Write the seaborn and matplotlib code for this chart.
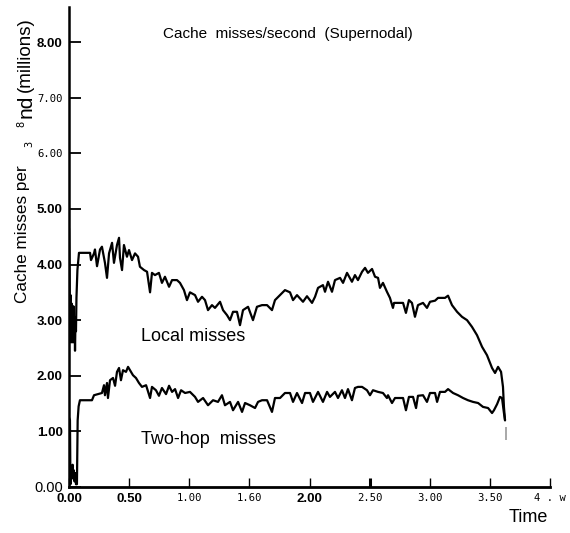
import matplotlib
matplotlib.use("Agg")
import matplotlib.pyplot as plt
import seaborn as sns
import pandas as pd

# ---- data ----------------------------------------------------------------
local_time = [
    0.000, 0.004, 0.008, 0.013, 0.017, 0.021, 0.025, 0.029, 0.033, 0.037,
    0.042, 0.046, 0.050, 0.054, 0.058, 0.062, 0.070, 0.078, 0.083, 0.175,
    0.183, 0.208, 0.216, 0.233, 0.258, 0.274, 0.299, 0.316, 0.333, 0.358,
    0.374, 0.399, 0.416, 0.424, 0.441, 0.457, 0.482, 0.499, 0.524, 0.549,
    0.574, 0.590, 0.624, 0.649, 0.674, 0.690, 0.715, 0.748, 0.773, 0.798,
    0.832, 0.857, 0.898, 0.923, 0.956, 0.981, 1.006, 1.048, 1.073, 1.106,
    1.131, 1.156, 1.189, 1.214, 1.256, 1.281, 1.314, 1.339, 1.364, 1.397,
    1.422, 1.447, 1.489, 1.530, 1.563, 1.605, 1.647, 1.688, 1.713, 1.755,
    1.796, 1.838, 1.863, 1.896, 1.946, 1.979, 2.021, 2.046, 2.071, 2.112,
    2.129, 2.154, 2.187, 2.212, 2.254, 2.279, 2.312, 2.353, 2.378, 2.403,
    2.437, 2.462, 2.486, 2.520, 2.545, 2.570, 2.586, 2.611, 2.644, 2.669,
    2.694, 2.703, 2.778, 2.802, 2.827, 2.852, 2.877, 2.902, 2.944, 2.977,
    3.002, 3.044, 3.069, 3.127, 3.152, 3.185, 3.227, 3.268, 3.310, 3.351,
    3.393, 3.435, 3.476, 3.518, 3.543, 3.568, 3.593, 3.609, 3.617, 3.626,
]
local_misses = [
    4.65, 3.90, 3.10, 3.45, 2.60, 3.30, 2.85, 3.15, 2.60, 3.25,
    2.70, 3.05, 2.45, 3.00, 2.80, 3.40, 3.90, 4.10, 4.21, 4.21,
    4.08, 4.20, 4.27, 3.97, 4.27, 4.32, 4.03, 3.76, 4.20, 4.39,
    4.03, 4.35, 4.48, 4.12, 3.90, 4.35, 4.14, 4.26, 4.08, 4.20,
    4.14, 3.96, 3.90, 3.87, 3.50, 3.85, 3.81, 3.85, 3.67, 3.78,
    3.60, 3.72, 3.72, 3.67, 3.54, 3.36, 3.50, 3.45, 3.33, 3.42,
    3.36, 3.18, 3.27, 3.22, 3.33, 3.18, 3.09, 3.00, 3.15, 3.15,
    2.91, 3.18, 3.24, 3.00, 3.24, 3.27, 3.27, 3.18, 3.36, 3.45,
    3.54, 3.50, 3.36, 3.45, 3.33, 3.43, 3.31, 3.42, 3.58, 3.63,
    3.51, 3.69, 3.51, 3.72, 3.76, 3.67, 3.85, 3.69, 3.81, 3.72,
    3.87, 3.94, 3.85, 3.92, 3.78, 3.76, 3.58, 3.67, 3.51, 3.40,
    3.22, 3.31, 3.31, 3.13, 3.36, 3.31, 3.06, 3.27, 3.31, 3.22,
    3.33, 3.35, 3.40, 3.40, 3.44, 3.27, 3.15, 3.06, 3.00, 2.88,
    2.73, 2.52, 2.37, 2.14, 2.05, 2.16, 2.07, 1.80, 1.44, 1.20,
]

twohop_time = [
    0.000, 0.008, 0.012, 0.020, 0.025, 0.030, 0.035, 0.040, 0.046, 0.052,
    0.058, 0.066, 0.072, 0.080, 0.091, 0.191, 0.208, 0.274, 0.291, 0.299,
    0.316, 0.324, 0.341, 0.366, 0.383, 0.399, 0.416, 0.432, 0.449, 0.474,
    0.491, 0.507, 0.532, 0.557, 0.582, 0.607, 0.641, 0.674, 0.690, 0.723,
    0.748, 0.773, 0.807, 0.832, 0.857, 0.882, 0.907, 0.932, 0.965, 1.006,
    1.048, 1.073, 1.115, 1.156, 1.198, 1.239, 1.272, 1.297, 1.339, 1.364,
    1.406, 1.439, 1.464, 1.505, 1.547, 1.572, 1.605, 1.647, 1.688, 1.713,
    1.755, 1.796, 1.838, 1.863, 1.896, 1.938, 1.963, 2.004, 2.029, 2.071,
    2.112, 2.146, 2.170, 2.212, 2.237, 2.270, 2.295, 2.320, 2.353, 2.378,
    2.403, 2.437, 2.478, 2.503, 2.528, 2.570, 2.611, 2.644, 2.653, 2.686,
    2.711, 2.778, 2.802, 2.827, 2.861, 2.886, 2.902, 2.944, 2.977, 3.002,
    3.044, 3.061, 3.085, 3.127, 3.152, 3.194, 3.235, 3.277, 3.318, 3.360,
    3.402, 3.443, 3.485, 3.518, 3.534, 3.560, 3.584, 3.601, 3.617, 3.626,
]
twohop_misses = [
    1.25, 1.20, 0.05, 0.35, 0.20, 0.40, 0.15, 0.30, 0.10, 0.25,
    0.05, 0.05, 1.20, 1.45, 1.56, 1.56, 1.65, 1.69, 1.83, 1.65,
    1.87, 1.60, 1.92, 1.96, 1.82, 2.07, 2.14, 1.92, 2.10, 2.07,
    2.16, 2.10, 2.01, 1.96, 1.87, 1.80, 1.83, 1.60, 1.80, 1.74,
    1.64, 1.78, 1.67, 1.82, 1.71, 1.76, 1.60, 1.74, 1.69, 1.71,
    1.62, 1.53, 1.60, 1.47, 1.56, 1.53, 1.65, 1.47, 1.53, 1.38,
    1.53, 1.35, 1.51, 1.47, 1.42, 1.53, 1.56, 1.56, 1.35, 1.60,
    1.60, 1.69, 1.69, 1.53, 1.69, 1.51, 1.69, 1.69, 1.53, 1.71,
    1.53, 1.71, 1.62, 1.71, 1.60, 1.74, 1.60, 1.76, 1.56, 1.78,
    1.80, 1.80, 1.74, 1.65, 1.74, 1.71, 1.69, 1.60, 1.65, 1.51,
    1.60, 1.60, 1.38, 1.62, 1.62, 1.42, 1.64, 1.65, 1.53, 1.69,
    1.69, 1.53, 1.71, 1.71, 1.76, 1.69, 1.65, 1.60, 1.56, 1.53,
    1.51, 1.44, 1.42, 1.33, 1.38, 1.49, 1.62, 1.60, 1.33, 1.20,
]

x_ticks = [0.0, 0.5, 1.0, 1.5, 2.0, 2.5, 3.0, 3.5, 4.0]
x_tick_labels = ["0.00", "0.50", "1.00", "1.60", "2.00", "2.50", "3.00", "3.50", "4 . w"]
y_ticks = [0, 1, 2, 3, 4, 5, 6, 7, 8]
y_tick_labels = ["0.00", "1.00", "2.00", "3.00", "4.00", "5.00", "6.00", "7.00", "8.00"]

title = "Cache  misses/second  (Supernodal)"
local_label = "Local misses"
twohop_label = "Two-hop  misses"

# ---- figure --------------------------------------------------------------
sns.set_theme(style="white")
plt.rcParams["font.family"] = ["Liberation Sans", "DejaVu Sans"]

W, H = 570, 533
fig = plt.figure(figsize=(W / 100, H / 100), dpi=100)
ax = fig.add_axes([69 / W, 1 - 487 / H, (550 - 69) / W, (487 - 7) / H])

local_df = pd.DataFrame({"time": local_time, "misses": local_misses})
twohop_df = pd.DataFrame({"time": twohop_time, "misses": twohop_misses})

for df in (local_df, twohop_df):
    sns.lineplot(data=df, x="time", y="misses", ax=ax, color="black",
                 linewidth=1.6, estimator=None, sort=False)

# small end-of-run marker below the curves
ax.vlines(local_time[-1] + 0.012, 0.85, 1.08, color="#999999", linewidth=1.2)

ax.set_xlim(0, 4.0)
ax.set_ylim(0, 8.63)
ax.set_xlabel("")
ax.set_ylabel("")

for side in ("top", "right"):
    ax.spines[side].set_visible(False)
ax.spines["left"].set_linewidth(1.8)
ax.spines["bottom"].set_linewidth(2.0)
for side in ("left", "bottom"):
    ax.spines[side].set_color("black")

ax.set_xticks(x_ticks, labels=x_tick_labels)
ax.set_yticks(y_ticks, labels=y_tick_labels)
ax.tick_params(axis="x", direction="in", length=6.5, width=1.0, color="black",
               pad=4.5, bottom=True)
ax.tick_params(axis="y", direction="in", length=8.5, width=1.3, color="black",
               pad=4.5, left=True)
ax.xaxis.get_major_ticks()[5].tick1line.set_markeredgewidth(2.2)

bold = dict(family="Liberation Sans", weight="bold", size=9.5)
mono = dict(family="DejaVu Sans Mono", weight="normal", size=7.6)
plain = dict(family="Liberation Sans", weight="normal", size=10.5)

x_styles = [bold, bold, mono, mono, bold, mono, mono, mono, mono]
y_styles = [plain, bold, bold, bold, bold, bold, mono, mono, bold]
for lbl, st in zip(ax.get_xticklabels(), x_styles):
    lbl.set_fontfamily(st["family"])
    lbl.set_fontweight(st["weight"])
    lbl.set_fontsize(st["size"])
    lbl.set_color("black")
for lbl, st in zip(ax.get_yticklabels(), y_styles):
    lbl.set_fontfamily(st["family"])
    lbl.set_fontweight(st["weight"])
    lbl.set_fontsize(st["size"])
    lbl.set_color("black")

# titles and series labels
ax.text(288 / W, 1 - 34 / H, title, transform=fig.transFigure,
        ha="center", va="center", fontsize=11, color="black")
ax.text(1.03, 2.70, local_label, ha="center", va="center", fontsize=13, color="black")
ax.text(1.16, 0.85, twohop_label, ha="center", va="center", fontsize=13, color="black")
fig.text(528 / W, 1 - 518 / H, "Time", ha="center", va="center",
         fontsize=13, color="black")

# vertical axis caption, built from its pieces
fig.text(23 / W, 1 - 303 / H, "Cache misses per", rotation=90,
         ha="center", va="bottom", fontsize=12.3, color="black")
fig.text(29 / W, 1 - 144 / H, "3", rotation=90, ha="center", va="center",
         fontsize=7.5, family="DejaVu Sans Mono", color="black")
fig.text(21 / W, 1 - 124 / H, "8", rotation=90, ha="center", va="center",
         fontsize=7.5, family="DejaVu Sans Mono", color="black")
fig.text(26 / W, 1 - 118 / H, "nd", rotation=90, ha="center", va="bottom",
         fontsize=15, color="black")
fig.text(25 / W, 1 - 92 / H, "(millions)", rotation=90, ha="center", va="bottom",
         fontsize=13.5, color="black")

fig.savefig("out.png", dpi=100, facecolor="white")
